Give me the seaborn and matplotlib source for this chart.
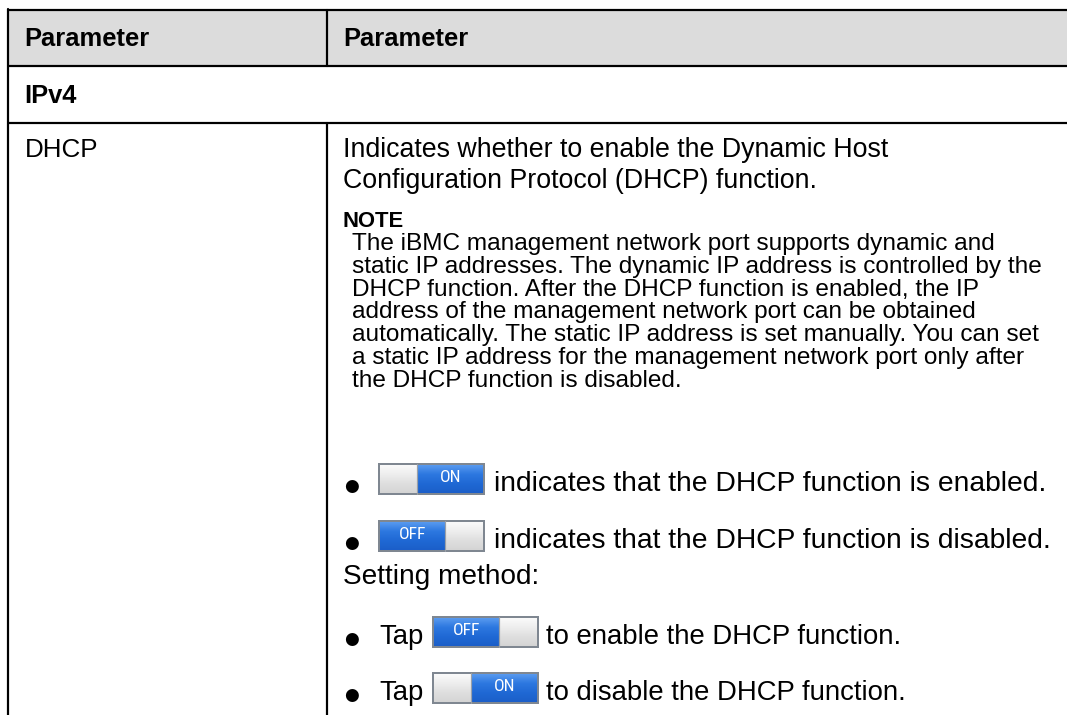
import matplotlib
matplotlib.use("Agg")
import numpy as np
import matplotlib.pyplot as plt
import seaborn as sns
from matplotlib.patches import Rectangle
from matplotlib.colors import LinearSegmentedColormap

sns.set_theme(style="white")
plt.rcParams["font.family"] = ["Liberation Sans", "DejaVu Sans"]
plt.rcParams["text.color"] = "black"

# table text
header_cols = ["Parameter", "Parameter"]
section_label = "IPv4"
param_name = "DHCP"
intro_lines = ["Indicates whether to enable the Dynamic Host",
               "Configuration Protocol (DHCP) function."]
note_title = "NOTE"
note_lines = [
    "The iBMC management network port supports dynamic and",
    "static IP addresses. The dynamic IP address is controlled by the",
    "DHCP function. After the DHCP function is enabled, the IP",
    "address of the management network port can be obtained",
    "automatically. The static IP address is set manually. You can set",
    "a static IP address for the management network port only after",
    "the DHCP function is disabled.",
]
state_items = [("ON", "indicates that the DHCP function is enabled."),
               ("OFF", "indicates that the DHCP function is disabled.")]
method_title = "Setting method:"
method_items = [("OFF", "to enable the DHCP function."),
                ("ON", "to disable the DHCP function.")]

W, H = 1067, 715
fig = plt.figure(figsize=(W / 100, H / 100), dpi=100)
ax = fig.add_axes([0, 0, 1, 1])
ax.set_xlim(0, W)
ax.set_ylim(H, 0)


def pt(px):
    return px * 72 / 100


blue_cmap = LinearSegmentedColormap.from_list("b", ["#5b9cf0", "#2d78e0", "#1f68d4", "#1b5ec8"])
gray_cmap = LinearSegmentedColormap.from_list("g", ["#fbfbfb", "#eeeeee", "#dedede", "#d4d4d4"])
grad = np.linspace(0, 1, 32).reshape(-1, 1)

# header background and grid lines
ax.add_patch(Rectangle((8, 10), W, 56, facecolor="#dcdcdc", edgecolor="none"))
lw = pt(2.2)
for y in [10, 66, 123]:
    ax.plot([8, W + 5], [y, y], color="black", lw=lw, solid_capstyle="butt")
ax.plot([8, 8], [9, H + 5], color="black", lw=lw)
ax.plot([327, 327], [10, 66], color="black", lw=lw)
ax.plot([327, 327], [123, H + 5], color="black", lw=lw)

ax.text(24, 46, header_cols[0], fontsize=pt(25.5), weight="bold", va="baseline")
ax.text(343, 46, header_cols[1], fontsize=pt(25.5), weight="bold", va="baseline")
ax.text(24, 103, section_label, fontsize=pt(25.5), weight="bold", va="baseline")
ax.text(25, 157, param_name, fontsize=pt(26), va="baseline")

for i, line in enumerate(intro_lines):
    ax.text(343, 157 + 31 * i, line, fontsize=pt(26.7), va="baseline")

ax.text(343, 227, note_title, fontsize=pt(22), weight="bold", va="baseline")

# note text: size so the widest line spans the cell like the original
probe = ax.text(0, 0, note_lines[1], fontsize=pt(20))
fig.canvas.draw()
probe_w = probe.get_window_extent().width
probe.remove()
note_px = 20 * (1046 - 352) / probe_w
for i, line in enumerate(note_lines):
    ax.text(352, 250 + 22.8 * i, line, fontsize=pt(note_px), va="baseline")


def toggle(x, base, state, w=105, h=30):
    y = base - h + 3
    sw = w * (0.36 if state == "ON" else 0.63)
    if state == "ON":
        gx, gw, bx, bw = x, sw, x + sw, w - sw
    else:
        bx, bw, gx, gw = x, sw, x + sw, w - sw
    ax.imshow(grad, cmap=gray_cmap, extent=(gx, gx + gw, y + h, y), origin="upper",
              aspect="auto", zorder=2)
    ax.imshow(grad, cmap=blue_cmap, extent=(bx, bx + bw, y + h, y), origin="upper",
              aspect="auto", zorder=2)
    ax.add_patch(Rectangle((x, y), w, h, facecolor="none", edgecolor="#7f8791",
                           lw=pt(2), zorder=3))
    ax.plot([x + sw, x + sw], [y, y + h], color="#9aa0a8", lw=pt(1.2), zorder=3)
    ax.text(bx + bw / 2, y + h / 2 - 1.5, state, color="white", fontsize=pt(17.5),
            family=["Roboto Condensed", "DejaVu Sans"], ha="center", va="center",
            zorder=4)


for i, (state, text) in enumerate(state_items):
    yb = 491 + 57 * i
    ax.text(344, yb, "\u25cf", fontsize=pt(17), va="baseline", family=["DejaVu Sans"])
    toggle(379, yb, state)
    ax.text(494, yb, text, fontsize=pt(28.3), va="baseline")

ax.text(343, 584, method_title, fontsize=pt(28), va="baseline")

for i, (state, text) in enumerate(method_items):
    yb = 644 + 56 * i
    ax.text(344, yb, "\u25cf", fontsize=pt(17), va="baseline", family=["DejaVu Sans"])
    ax.text(379, yb, "Tap", fontsize=pt(27.5), va="baseline")
    toggle(433, yb, state)
    ax.text(546, yb, text, fontsize=pt(27.5), va="baseline")

ax.set_xlim(0, W)
ax.set_ylim(H, 0)
ax.axis("off")

fig.savefig("out.png", dpi=100)
